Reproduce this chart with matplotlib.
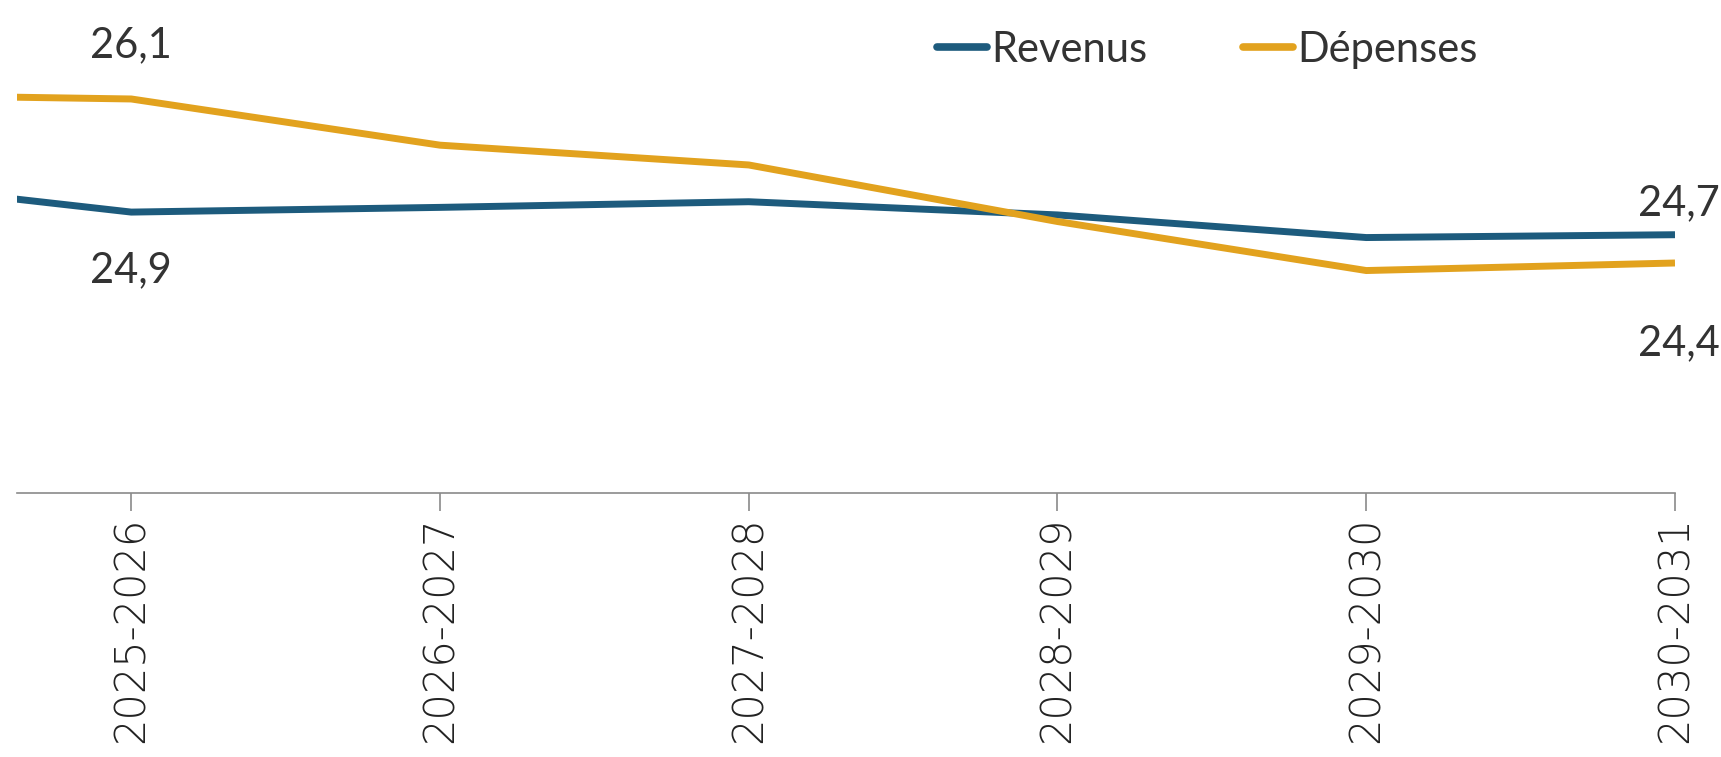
import matplotlib
matplotlib.use('Agg')
import matplotlib.pyplot as plt
from matplotlib.lines import Line2D

plt.rcParams['font.family'] = 'sans-serif'
plt.rcParams['font.sans-serif'] = 'Lato'

# data; first year is only partly visible on the left
years = ['2024-2025', '2025-2026', '2026-2027', '2027-2028', '2028-2029', '2029-2030', '2030-2031']
revenus = [25.27, 24.90, 24.95, 25.01, 24.87, 24.63, 24.66]
depenses = [26.15, 26.10, 25.61, 25.40, 24.80, 24.28, 24.36]

BLUE = '#1d5b7d'
ORANGE = '#e2a21e'
TEXT = '#333333'
GREY = '#8a8a8a'

x = list(range(-1, len(years) - 1))

fig = plt.figure(figsize=(17.21, 7.57), dpi=100)
ax = fig.add_axes([17 / 1721, 1 - 493 / 757, (1675 - 17) / 1721, 493 / 757])

ax.plot(x, revenus, color=BLUE, linewidth=5, solid_capstyle='butt', solid_joinstyle='round')
ax.plot(x, depenses, color=ORANGE, linewidth=5, solid_capstyle='butt', solid_joinstyle='round')

ax.set_xlim(-0.37, len(years) - 2)
ax.set_ylim(21.92, 27.15)

ax.set_xticks(x[1:])
ax.set_xticklabels(years[1:], rotation=90, fontsize=30, color='#222222',
                   family='DejaVu Sans', fontweight='light')
ax.set_yticks([])

for spine in ['top', 'right', 'left']:
    ax.spines[spine].set_visible(False)
ax.spines['bottom'].set_color(GREY)
ax.spines['bottom'].set_linewidth(1.2)
ax.tick_params(axis='x', length=13, width=1.2, color=GREY, pad=4)


def fmt(v):
    return f'{v:.1f}'.replace('.', ',')


# value labels at first and last visible year
lbl = dict(ha='center', va='center', fontsize=30, color=TEXT,
           textcoords='offset points', annotation_clip=False)
ax.annotate(fmt(depenses[1]), (x[1], depenses[1]), xytext=(0, 39), **lbl)
ax.annotate(fmt(revenus[1]), (x[1], revenus[1]), xytext=(0, -42), **lbl)
ax.annotate(fmt(revenus[-1]), (x[-1], revenus[-1]), xytext=(3, 23), **lbl)
ax.annotate(fmt(depenses[-1]), (x[-1], depenses[-1]), xytext=(3, -58), **lbl)

handles = [Line2D([], [], color=BLUE, linewidth=5.5, solid_capstyle='round'),
           Line2D([], [], color=ORANGE, linewidth=5.5, solid_capstyle='round')]
leg = fig.legend(handles, ['Revenus', 'Dépenses'], ncol=2, loc='center',
                 bbox_to_anchor=(1207 / 1721, 1 - 50 / 757), frameon=False,
                 fontsize=30, handlelength=1.2, handletextpad=0.1, columnspacing=2.3)
for t in leg.get_texts():
    t.set_color(TEXT)

fig.savefig('out.png', dpi=100)
